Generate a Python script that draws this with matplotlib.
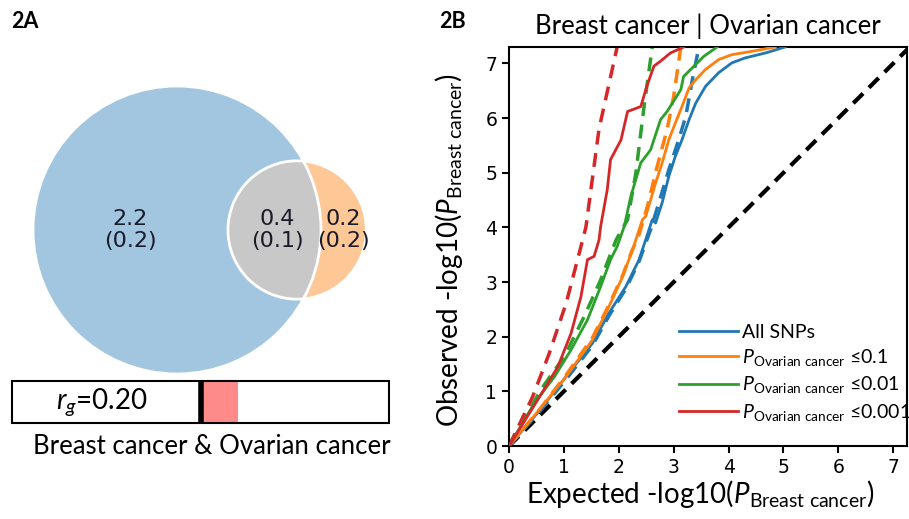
import numpy as np
import matplotlib
matplotlib.use("Agg")
import matplotlib.pyplot as plt
from matplotlib.patches import Circle, Rectangle

# Venn values: heritability (se) for breast only, shared, ovarian only
venn_values = [2.2, 0.4, 0.2]
venn_se = [0.2, 0.1, 0.2]
rg = 0.20
pair_label = "Breast cancer & Ovarian cancer"

# QQ curves (expected, observed)
series_labels = ["All SNPs",
                 r"$P$$_{\mathrm{Ovarian\ cancer}}$ ≤0.1",
                 r"$P$$_{\mathrm{Ovarian\ cancer}}$ ≤0.01",
                 r"$P$$_{\mathrm{Ovarian\ cancer}}$ ≤0.001"]
series_colors = ["#1f77b4", "#ff7f0e", "#2ca02c", "#d62728"]

all_x = [0, 0.55, 1.04, 1.52, 1.82, 2.13, 2.37, 2.61, 2.67, 2.79, 2.91, 3.03, 3.15,
         3.28, 3.40, 3.58, 3.82, 4.06, 4.30, 4.67, 5.03]
all_y = [0, 0.64, 1.27, 1.88, 2.43, 2.92, 3.41, 4.14, 4.08, 4.45, 4.93, 5.30, 5.60,
         5.97, 6.27, 6.58, 6.83, 7.01, 7.10, 7.19, 7.30]
p1_x = [0, 0.55, 1.04, 1.52, 1.82, 2.07, 2.25, 2.43, 2.49, 2.67, 2.79, 2.91, 3.03,
        3.15, 3.28, 3.40, 3.58, 3.82, 4.06, 4.42, 4.85]
p1_y = [0, 0.66, 1.27, 1.94, 2.55, 3.10, 3.59, 4.14, 4.20, 4.81, 5.18, 5.60, 5.91,
        6.21, 6.55, 6.70, 6.89, 7.07, 7.16, 7.22, 7.30]
p01_x = [0, 0.46, 0.83, 1.13, 1.43, 1.67, 1.85, 1.97, 2.10, 2.22, 2.40, 2.58, 2.76,
         2.88, 3.13, 3.18, 3.31, 3.55, 3.79]
p01_y = [0, 0.78, 1.27, 1.76, 2.31, 2.92, 3.41, 3.65, 4.02, 4.57, 5.18, 5.42, 5.97,
         6.12, 6.52, 6.76, 6.89, 7.13, 7.30]
p001_x = [0, 0.52, 0.89, 1.13, 1.31, 1.43, 1.55, 1.64, 1.67, 1.79, 1.85, 2.04, 2.16,
          2.40, 2.51, 2.64, 2.76, 2.94, 3.18]
p001_y = [0, 0.84, 1.45, 2.06, 2.73, 3.41, 3.47, 3.77, 4.02, 4.69, 5.24, 5.60, 6.12,
          6.21, 6.58, 6.95, 7.04, 7.19, 7.30]

# dashed reference curves
all_dx = [0, 0.55, 1.04, 1.52, 1.82, 2.13, 2.37, 2.58, 2.73, 2.91, 3.09, 3.22, 3.34, 3.46]
all_dy = [0, 0.62, 1.22, 1.84, 2.38, 2.88, 3.38, 3.96, 4.45, 5.05, 5.60, 6.03, 6.70, 7.30]
p1_dx = [0, 0.55, 1.04, 1.52, 1.82, 2.07, 2.25, 2.34, 2.52, 2.70, 2.88, 3.00, 3.13]
p1_dy = [0, 0.66, 1.30, 1.98, 2.58, 3.12, 3.60, 3.77, 4.38, 5.12, 5.79, 6.40, 7.30]
p01_dx = [0, 0.58, 1.01, 1.37, 1.67, 1.95, 2.16, 2.31, 2.46, 2.61]
p01_dy = [0, 1.03, 1.64, 2.37, 3.04, 3.77, 4.14, 4.99, 6.21, 7.30]
p001_dx = [0, 0.43, 0.735, 1.04, 1.28, 1.40, 1.64, 1.97]
p001_dy = [0, 0.90, 1.70, 2.61, 3.53, 4.00, 5.80, 7.30]

solid_x = [all_x, p1_x, p01_x, p001_x]
solid_y = [all_y, p1_y, p01_y, p001_y]
dash_x = [all_dx, p1_dx, p01_dx, p001_dx]
dash_y = [all_dy, p1_dy, p01_dy, p001_dy]

plt.rcParams['font.family'] = ['Lato', 'DejaVu Sans']
plt.rcParams['mathtext.fontset'] = 'custom'
plt.rcParams['mathtext.rm'] = 'Lato'
plt.rcParams['mathtext.it'] = 'Lato:italic'

fig = plt.figure(figsize=(9.09, 5.19), dpi=100)

# ---------- panel A, drawn in pixel coordinates ----------
pa = fig.add_axes([0, 0, 1, 1])
pa.set_xlim(0, 909)
pa.set_ylim(519, 0)
pa.axis('off')

# area-proportional circles
k = 89.3
r1 = k * np.sqrt(venn_values[0] + venn_values[1])
r2 = k * np.sqrt(venn_values[1] + venn_values[2])
target = np.pi * k ** 2 * venn_values[1]


def lens_area(d):
    a1 = r1 ** 2 * np.arccos((d ** 2 + r1 ** 2 - r2 ** 2) / (2 * d * r1))
    a2 = r2 ** 2 * np.arccos((d ** 2 + r2 ** 2 - r1 ** 2) / (2 * d * r2))
    a3 = 0.5 * np.sqrt((-d + r1 + r2) * (d + r1 - r2) * (d - r1 + r2) * (d + r1 + r2))
    return a1 + a2 - a3


lo, hi = r1 - r2 + 0.01, r1 + r2 - 0.01
for _ in range(60):
    mid = (lo + hi) / 2
    if lens_area(mid) > target:
        lo = mid
    else:
        hi = mid
d = (lo + hi) / 2

c1 = (177, 230)
c2 = (c1[0] + d, c1[1])
blue = Circle(c1, r1, facecolor="#a3c6e0", edgecolor="none")
orange = Circle(c2, r2, facecolor="#fdc896", edgecolor="none")
pa.add_patch(blue)
pa.add_patch(orange)
gray = Circle(c2, r2, facecolor="#c8c8c8", edgecolor="none")
pa.add_patch(gray)
gray.set_clip_path(blue)
pa.add_patch(Circle(c1, r1, facecolor="none", edgecolor="white", lw=2))
pa.add_patch(Circle(c2, r2, facecolor="none", edgecolor="white", lw=2))

label_x = [c1[0] - 47, (c2[0] - r2 + c1[0] + r1) / 2 + 3, (c1[0] + r1 + c2[0] + r2) / 2]
for lx, v, s in zip(label_x, venn_values, venn_se):
    pa.text(lx, c1[1], f"{v}\n({s})", ha='center', va='center', fontsize=16,
            family='DejaVu Sans', color='#1a1a2a', linespacing=1.15)

# genetic correlation bar on a -1..1 scale
bar_left, bar_right, bar_top, bar_h = 12, 389, 381, 42
bar_mid = (bar_left + bar_right) / 2
half = (bar_right - bar_left) / 2
pa.add_patch(Rectangle((bar_mid, bar_top), rg * half, bar_h, facecolor="#ff8a8a",
                       edgecolor="none"))
pa.add_patch(Rectangle((bar_left, bar_top), bar_right - bar_left, bar_h,
                       facecolor="none", edgecolor="black", lw=1.5))
pa.plot([bar_mid, bar_mid], [bar_top, bar_top + bar_h], color='black', lw=4,
        solid_capstyle='butt')
pa.text(102, bar_top + bar_h / 2, r"$r_g$=%.2f" % rg, ha='center', va='center',
        fontsize=20)
pa.text(bar_mid + 11, 447, pair_label, ha='center', va='center', fontsize=18.5)

pa.text(11, 22, "2A", ha='left', va='center', fontsize=15.5, fontweight='bold')
pa.text(439, 22, "2B", ha='left', va='center', fontsize=15.5, fontweight='bold')

# ---------- panel B ----------
ax = fig.add_axes([509 / 909, 73 / 519, 398 / 909, 399 / 519])
ax.plot([0, 7.3], [0, 7.3], color='black', lw=3, ls=(0, (3.3, 2)), zorder=1)
for xs, ys, xd, yd, col, lab in zip(solid_x, solid_y, dash_x, dash_y,
                                    series_colors, series_labels):
    ax.plot(xd, yd, color=col, lw=2.5, ls=(0, (4, 2.5)), zorder=2)
    ax.plot(xs, ys, color=col, lw=2, label=lab, zorder=3)

ax.set_xlim(0, 7.25)
ax.set_ylim(0, 7.3)
ax.set_xticks(range(8))
ax.set_yticks(range(8))
for lab in ax.get_xticklabels() + ax.get_yticklabels():
    lab.set_family('DejaVu Sans')
    lab.set_fontsize(13.5)
for sp in ax.spines.values():
    sp.set_linewidth(1.5)
ax.tick_params(direction='out', length=5, width=1.5)
ax.set_title("Breast cancer | Ovarian cancer", fontsize=18.5, pad=9)
ax.set_xlabel(r"Expected -log10($P$$_{\mathrm{Breast\ cancer}}$)", fontsize=20)
ax.set_ylabel(r"Observed -log10($P$$_{\mathrm{Breast\ cancer}}$)", fontsize=20)
ax.xaxis.set_label_coords(0.48, -0.08)
ax.yaxis.set_label_coords(-0.11, 0.49)

ax.legend(loc='upper left', bbox_to_anchor=(0.428, 0.307), frameon=False,
          fontsize=14, handlelength=3.0, handletextpad=0.2, labelspacing=0.33,
          borderpad=0, borderaxespad=0)

plt.savefig("out.png", dpi=100)
